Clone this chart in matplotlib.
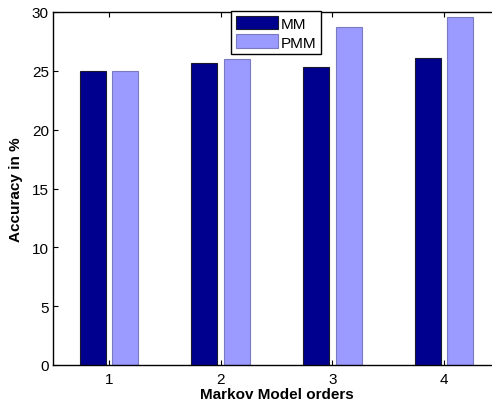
import matplotlib
matplotlib.use("Agg")
import matplotlib.pyplot as plt
import numpy as np

plt.rcParams['font.family'] = ['Liberation Sans', 'DejaVu Sans']

orders = [1, 2, 3, 4]
mm = [25.0, 25.66, 25.32, 26.05]
pmm = [25.0, 25.97, 28.72, 29.6]
series_names = ['MM', 'PMM']
yticks = [0, 5, 10, 15, 20, 25, 30]

fig = plt.figure(figsize=(4.92, 4.06), dpi=100)
ax = fig.add_axes([53/492, 40/406, (500-53)/492, (366-13)/406])

x = np.array(orders, dtype=float)
w = 0.232
off = 0.145
ax.bar(x - off, mm, width=w, color='#00008f', edgecolor='#1a1a2e', linewidth=0.8, label=series_names[0])
ax.bar(x + off, pmm, width=w, color='#9a9aff', edgecolor='#7a7ac0', linewidth=0.8, label=series_names[1])

ax.set_xlim(0.5, 4.5)
ax.set_ylim(0, 30)
ax.set_xticks(orders)
ax.set_xticklabels([str(o) for o in orders])
ax.set_yticks(yticks)
ax.tick_params(direction='in', length=3.5, width=0.8, labelsize=11, top=True, right=True)
ax.tick_params(axis='y', pad=3)
ax.tick_params(axis='x', pad=5)
for s in ax.spines.values():
    s.set_linewidth(1.0)
ax.set_xlabel('Markov Model orders', fontsize=11, fontweight='bold', labelpad=1)
ax.set_ylabel('Accuracy in %', fontsize=11, fontweight='bold', labelpad=6)

leg = ax.legend(loc='upper left', bbox_to_anchor=(231/492, 1-12/406), bbox_transform=fig.transFigure,
                fancybox=False, framealpha=1, edgecolor='black', fontsize=11,
                handlelength=2.75, handleheight=1.0, handletextpad=0.2, borderpad=0.3,
                labelspacing=0.25, borderaxespad=0)
leg.get_frame().set_linewidth(1.0)

fig.savefig('out.png', dpi=100)
